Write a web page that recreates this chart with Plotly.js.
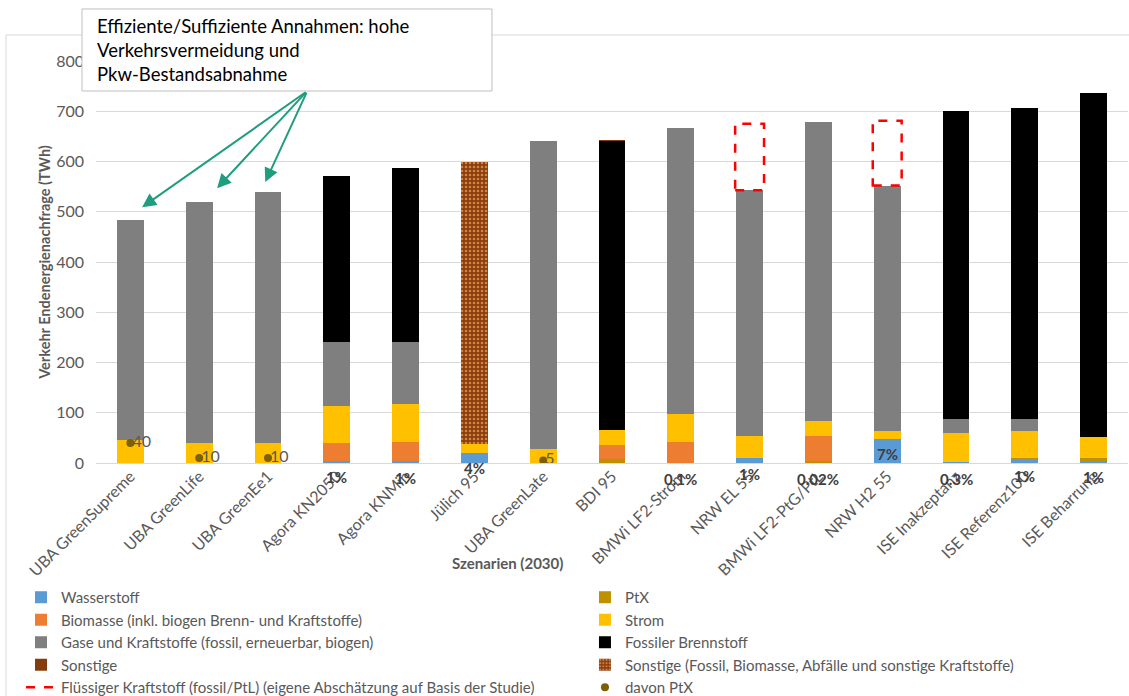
<!DOCTYPE html>
<html>
<head>
<meta charset="utf-8">
<script src="https://cdn.plot.ly/plotly-3.0.1.min.js"></script>
<style>
html,body{margin:0;padding:0;background:#fff;}
#chart{width:1129px;height:696px;}
</style>
</head>
<body>
<div id="chart"></div>
<script>
// ---- Data ----
const categories = ["UBA GreenSupreme","UBA GreenLife","UBA GreenEe1","Agora KN2050","Agora KNMin","Jülich 95","UBA GreenLate","BDI 95","BMWi LF2-Strom","NRW EL 55","BMWi LF2-PtG/PtL","NRW H2 55","ISE Inakzeptanz","ISE Referenz100","ISE Beharrung"];
const wasserstoff = [0,0,0,3,3,20,0,0,0,10,0,48,2,7,4];
const ptx         = [0,0,0,0,0,0,0,8,0,0,4,0,0,2,5];
const biomasse    = [0,0,0,37,39,0,0,28,42,0,50,0,0,0,0];
const strom       = [46,40,40,73,75,18,28,30,56,44,30,15,58,54,43];
const gase        = [438,480,499,128,123,0,613,0,569,489,595,489,28,25,0];
const fossil      = [0,0,0,330,347,0,0,574,0,0,0,0,612,618,684];
const sonstige    = [0,0,0,0,0,0,0,2,0,0,0,0,0,0,0];
const sonstigeMix = [0,0,0,0,0,562,0,0,0,0,0,0,0,0,0];
const fluessig    = [null,null,null,null,null,null,null,null,null,132,null,129,null,null,null];
const davonPtx    = [40,10,10,null,null,null,5,null,null,null,null,null,null,null,null];
const ptxShare    = [null,null,null,"1%","1%","4%",null,null,"0.1%","1%","0.02%","7%","0.3%","1%","1%"];
const annotationText = "Effiziente/Suffiziente Annahmen: hohe<br>Verkehrsvermeidung und<br>Pkw-Bestandsabnahme";

// ---- Styles ----
const FONT = "Lato, 'Open Sans', sans-serif";
const GRAY = "#595959";
const shareShift = [0,0,0,-14,-15,-5,0,0,-16,-11,-16,9,-16,-13,-14];
const arrowTips = [[0.17,509,165,-116],[1.26,547,90,-97],[1.96,559,42,-91]];

function barTrace(name, y, color, legend, extra) {
  return Object.assign({
    type: "bar", name: name, x: categories, y: y, legend: legend,
    marker: {color: color, line: {width: 0}},
    hoverinfo: "x+y+name"
  }, extra || {});
}

const traces = [
  barTrace("Wasserstoff", wasserstoff, "#5B9BD5", "legend"),
  barTrace("PtX", ptx, "#BF9000", "legend2"),
  barTrace("Biomasse (inkl. biogen Brenn- und Kraftstoffe)", biomasse, "#ED7D31", "legend"),
  barTrace("Strom", strom, "#FFC000", "legend2"),
  barTrace("Gase und Kraftstoffe (fossil, erneuerbar, biogen)", gase, "#7F7F7F", "legend"),
  barTrace("Fossiler Brennstoff", fossil, "#000000", "legend2"),
  barTrace("Sonstige", sonstige, "#843C0C", "legend"),
  barTrace("Sonstige (Fossil, Biomasse, Abfälle und sonstige Kraftstoffe)", sonstigeMix, "#8A3D10", "legend2",
    {marker: {color: "#8A3D10", line: {width: 0},
      pattern: {shape: ".", bgcolor: "#8A3D10", fgcolor: "#D2843F", size: 4, solidity: 0.35}}}),
  {type: "scatter", mode: "lines", x: [null], y: [null], legend: "legend",
   name: "Flüssiger Kraftstoff (fossil/PtL) (eigene Abschätzung auf Basis der Studie)",
   line: {color: "#FF0000", width: 2.5, dash: "dash"}},
  {type: "scatter", mode: "markers", x: categories, y: davonPtx, name: "davon PtX", legend: "legend2",
   marker: {color: "#7F6000", size: 8}},
  {type: "scatter", mode: "text", x: categories, y: davonPtx, showlegend: false,
   text: davonPtx.map(v => v == null ? "" : "\u2009" + String(v)), textposition: "middle right",
   textfont: {family: FONT, size: 16, color: GRAY}, hoverinfo: "skip"}
];

const shapes = [];
// outer chart frame (top and left edges)
shapes.push({type: "line", xref: "paper", yref: "paper", x0: -0.0872, x1: 1.01, y0: 1.0647, y1: 1.0647,
  line: {color: "#D9D9D9", width: 1}, layer: "below"});
shapes.push({type: "line", xref: "paper", yref: "paper", x0: -0.0872, x1: -0.0872, y0: 1.0647, y1: -0.6,
  line: {color: "#D9D9D9", width: 1}, layer: "below"});
// liquid-fuel estimate boxes on top of the stacks
categories.forEach((c, i) => {
  if (fluessig[i] == null) return;
  const base = wasserstoff[i] + ptx[i] + biomasse[i] + strom[i] + gase[i] + fossil[i] + sonstige[i] + sonstigeMix[i];
  shapes.push({type: "rect", xref: "x", yref: "y", x0: i - 0.21, x1: i + 0.21,
    y0: base, y1: base + fluessig[i], line: {color: "#FF0000", width: 2.5, dash: "dash"},
    fillcolor: "rgba(0,0,0,0)"});
});
// callout box
shapes.push({type: "rect", xref: "paper", yref: "paper", x0: -0.01357, x1: 0.3837, y0: 0.9254, y1: 1.1294,
  fillcolor: "#FFFFFF", line: {color: "#BFBFBF", width: 1}, layer: "above"});

const annotations = [];
categories.forEach((c, i) => {
  if (ptxShare[i] == null) return;
  annotations.push({x: c, y: 0, xref: "x", yref: "y", text: ptxShare[i], showarrow: false,
    yshift: shareShift[i], font: {family: FONT, size: 15, color: "#404040", weight: "bold"}});
});
arrowTips.forEach((t) => {
  annotations.push({x: t[0], y: t[1], xref: "x", yref: "y", ax: t[2], ay: t[3], text: "",
    showarrow: true, arrowhead: 2, arrowsize: 1.4, arrowwidth: 2, arrowcolor: "#1E9E7E"});
});
annotations.push({xref: "paper", yref: "paper", x: -0.001, y: 1.1194, xanchor: "left", yanchor: "top",
  text: annotationText, showarrow: false, align: "left",
  font: {family: FONT, size: 18.5, color: "#000000"}});
annotations.push({xref: "paper", yref: "paper", x: 0.399, y: -0.249, xanchor: "center", yanchor: "middle",
  text: "Szenarien (2030)", showarrow: false, font: {family: FONT, size: 15, color: GRAY, weight: "bold"}});

const legendStyle = {orientation: "v", xanchor: "left", y: -0.2935, yanchor: "top",
  itemwidth: 30, traceorder: "normal", bgcolor: "rgba(0,0,0,0)",
  font: {family: FONT, size: 15, color: GRAY}};

const layout = {
  width: 1129, height: 696,
  margin: {l: 96, r: 1, t: 61, b: 233, autoexpand: false},
  paper_bgcolor: "#FFFFFF", plot_bgcolor: "#FFFFFF",
  barmode: "stack", bargap: 0.61,
  font: {family: FONT, color: GRAY},
  showlegend: true,
  legend: Object.assign({x: -0.0727}, legendStyle),
  legend2: Object.assign({x: 0.4738}, legendStyle),
  xaxis: {type: "category", tickangle: -45, tickfont: {family: FONT, size: 16, color: GRAY},
    showgrid: false, showline: false, ticks: "", range: [-0.5, 14.5]},
  yaxis: {range: [0, 800], dtick: 100, gridcolor: "#D9D9D9", zeroline: true, zerolinecolor: "#D9D9D9",
    zerolinewidth: 1, showline: false, ticks: "", ticklabelstandoff: 11,
    tickfont: {family: FONT, size: 16, color: GRAY},
    title: {text: "Verkehr Endenergienachfrage (TWh)", standoff: 2,
      font: {family: FONT, size: 14.5, color: GRAY, weight: "bold"}}},
  shapes: shapes, annotations: annotations
};

Plotly.newPlot("chart", traces, layout, {displayModeBar: false, staticPlot: true});
</script>
</body>
</html>
